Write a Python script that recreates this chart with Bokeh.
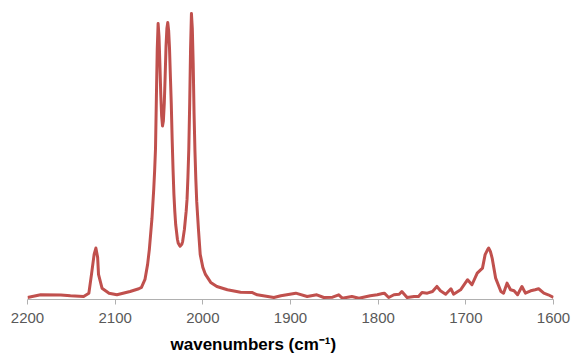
from bokeh.plotting import figure
from bokeh.models import Range1d, FixedTicker, Title
from bokeh.embed import file_html
from bokeh.resources import INLINE

wavenumber = [2200, 2185, 2162, 2151, 2136, 2130, 2127, 2124, 2122, 2120, 2119, 2115,
              2107, 2098, 2083, 2073, 2070, 2066, 2063, 2061, 2058, 2056, 2055, 2054,
              2053, 2052, 2051, 2050, 2049, 2048, 2047, 2046, 2045, 2044, 2043, 2042,
              2041, 2040, 2039, 2038, 2037, 2036, 2035, 2034, 2033, 2032, 2031, 2029,
              2028, 2026, 2024, 2023, 2021, 2019, 2018, 2017, 2016, 2015, 2014, 2013,
              2012, 2011, 2010, 2009, 2008, 2007, 2005, 2003, 2000, 1997, 1991, 1984,
              1972, 1957, 1944, 1938, 1919, 1911, 1894, 1881, 1870, 1862, 1852, 1845,
              1841, 1830, 1822, 1809, 1801, 1795, 1793, 1788, 1782, 1776, 1773, 1767,
              1759, 1754, 1750, 1744, 1738, 1733, 1729, 1723, 1717, 1714, 1706, 1698,
              1693, 1687, 1681, 1678, 1675, 1674, 1672, 1670, 1666, 1660, 1657, 1653,
              1649, 1645, 1641, 1636, 1632, 1626, 1621, 1617, 1611, 1606, 1600]
intensity = [2, 4.7, 4.5, 3.7, 3, 6.3, 25, 45, 51.3, 42, 25, 11.3,
             6.3, 4.7, 8, 10.7, 12, 20, 35, 50, 81, 110, 128, 150,
             200, 250, 275, 262, 235, 205, 183, 173, 178, 195, 222, 252,
             270, 276, 268, 250, 222, 195, 160, 130, 105, 88, 75, 60,
             56, 53, 55, 58, 70, 88, 100, 122, 150, 195, 250, 285,
             270, 235, 185, 148, 120, 98, 70, 45, 32, 25, 17, 13,
             9.7, 7.3, 7, 4.7, 2, 3.7, 6.3, 3, 4.7, 2, 2.3, 4.7,
             1.3, 3, 1.3, 3.7, 4.7, 6, 6.3, 2, 4.7, 5.3, 8, 2,
             3, 3, 7, 6.3, 8, 13, 8.7, 5.3, 10.7, 5.3, 9.7, 19.7,
             14.7, 26.3, 31.3, 44.7, 50, 51.3, 48, 41.3, 21.3, 8, 6.3, 16.3,
             9.7, 8.7, 4.7, 13, 6.3, 8.7, 9.7, 10.7, 6.3, 4.7, 2]
x_ticks = [2200, 2100, 2000, 1900, 1800, 1700, 1600]
x_label = "wavenumbers (cm\u207b\u00b9)"

p = figure(width=573, height=361, output_backend="svg", toolbar_location=None,
           x_range=Range1d(2200, 1600), y_range=Range1d(0, 295),
           min_border_left=27, min_border_right=20, min_border_top=3,
           min_border_bottom=0)
p.outline_line_color = None
p.background_fill_color = "white"
p.border_fill_color = "white"
p.xgrid.visible = False
p.ygrid.visible = False
p.yaxis.visible = False

p.line(wavenumber, intensity, line_color="#c0504d", line_width=3, line_join="round")

ax = p.xaxis[0]
ax.ticker = FixedTicker(ticks=x_ticks)
ax.axis_line_color = "#b0b0b0"
ax.major_tick_line_color = "#b0b0b0"
ax.major_tick_out = 5
ax.major_tick_in = 0
ax.minor_tick_line_color = None
ax.major_label_text_font = "Liberation Sans"
ax.major_label_text_font_size = "15px"
ax.major_label_text_color = "#595959"
ax.major_label_standoff = 8

p.add_layout(Title(text=x_label, align="left", offset=143, standoff=15,
                   text_font="Liberation Sans", text_font_size="17px",
                   text_font_style="bold", text_color="#000000"), "below")

open("out.html", "w").write(file_html(p, INLINE))
